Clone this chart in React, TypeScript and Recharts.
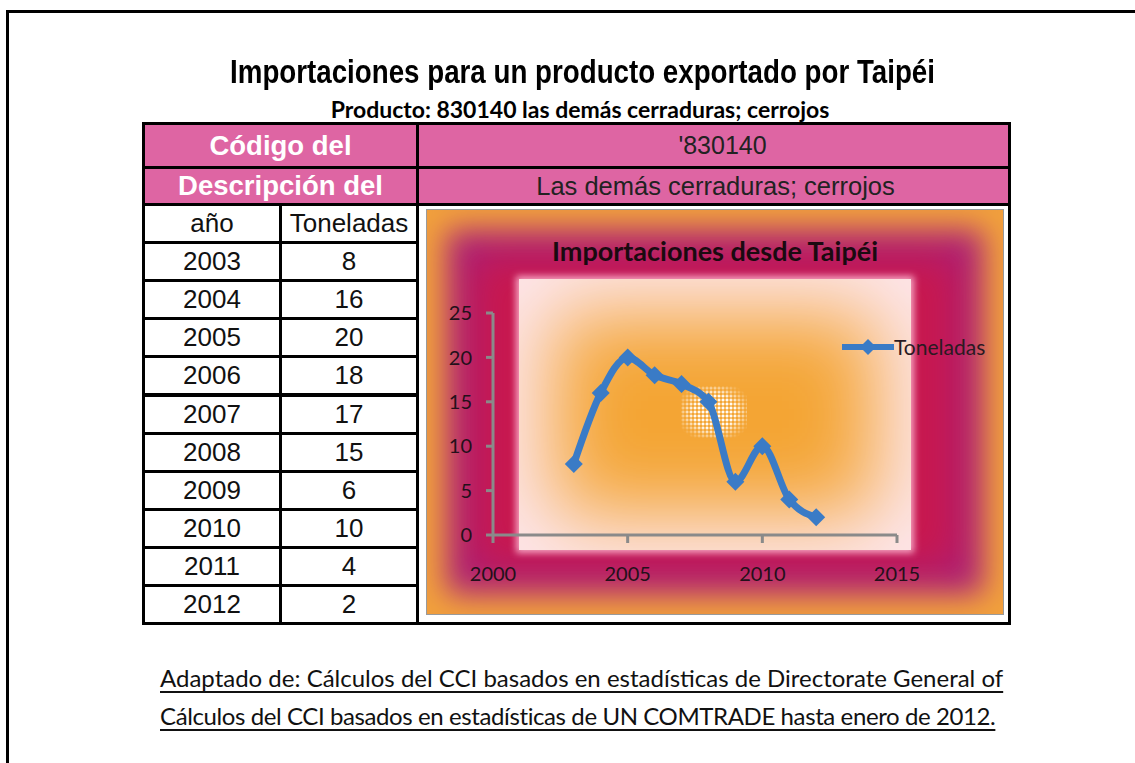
import React from 'react';
import { LineChart, Line, XAxis, YAxis, Legend } from 'recharts';

const years = [2003, 2004, 2005, 2006, 2007, 2008, 2009, 2010, 2011, 2012];
const toneladas = [8, 16, 20, 18, 17, 15, 6, 10, 4, 2];
const xTicks = [2000, 2005, 2010, 2015];
const yTicks = [0, 5, 10, 15, 20, 25];

const chartData = years.map((year, i) => ({ year, toneladas: toneladas[i] }));

const BLUE = '#3a7bc6';
const PINK = '#de65a3';
const AXIS = '#8a8a8a';
const ARIAL = '"Liberation Sans", Arial, sans-serif';
const CALIBRI = 'Lato, "Noto Sans", sans-serif';

const Diamond = (props: any) => {
  const { cx, cy } = props;
  if (cx == null || cy == null) return null;
  const r = 9;
  return (
    <polygon
      points={`${cx},${cy - r} ${cx + r},${cy} ${cx},${cy + r} ${cx - r},${cy}`}
      fill={BLUE}
    />
  );
};

const LegendContent = () => (
  <div style={{ display: 'flex', alignItems: 'center', fontFamily: CALIBRI, fontSize: 21, color: '#2a1a22' }}>
    <svg width={52} height={20}>
      <line x1={0} y1={10} x2={52} y2={10} stroke={BLUE} strokeWidth={6} />
      <polygon points="26,2 34,10 26,18 18,10" fill={BLUE} />
    </svg>
    <span>Toneladas</span>
  </div>
);

type CellProps = {
  x: number;
  y: number;
  w: number;
  h: number;
  bg?: string;
  children?: React.ReactNode;
  style?: React.CSSProperties;
};

function Cell({ x, y, w, h, bg = '#fff', children, style }: CellProps) {
  return (
    <div
      style={{
        position: 'absolute',
        left: x,
        top: y,
        width: w,
        height: h,
        boxSizing: 'border-box',
        border: '3px solid #000',
        background: bg,
        display: 'flex',
        alignItems: 'center',
        justifyContent: 'center',
        whiteSpace: 'nowrap',
        ...style,
      }}
    >
      {children}
    </div>
  );
}

const ROW_TOP = 203;
const ROW_PITCH = 38.1;
const tableText: React.CSSProperties = { fontFamily: ARIAL, fontSize: 26, color: '#111' };
const headLeft: React.CSSProperties = { color: '#fff', fontFamily: ARIAL, fontWeight: 700, fontSize: 27.5 };

export default function App() {
  return (
    <div
      style={{
        position: 'absolute',
        left: 0,
        top: 0,
        width: 1135,
        height: 763,
        background: '#fff',
        overflow: 'hidden',
      }}
    >
      {/* page frame */}
      <div
        style={{
          position: 'absolute',
          left: 6,
          top: 10,
          width: 1200,
          height: 800,
          borderLeft: '3px solid #000',
          borderTop: '3px solid #000',
        }}
      />

      <div
        style={{
          position: 'absolute',
          left: 0,
          width: 1165,
          top: 53,
          textAlign: 'center',
          fontFamily: ARIAL,
          fontWeight: 700,
          fontSize: 33,
          lineHeight: '38px',
          color: '#000',
          transform: 'scaleX(0.84)',
          transformOrigin: '582.5px 0',
        }}
      >
        Importaciones para un producto exportado por Taipéi
      </div>
      <div
        style={{
          position: 'absolute',
          left: 0,
          width: 1160,
          top: 95,
          textAlign: 'center',
          fontFamily: CALIBRI,
          fontWeight: 700,
          fontSize: 23,
          lineHeight: '28px',
          color: '#000',
        }}
      >
        Producto: 830140 las demás cerraduras; cerrojos
      </div>

      {/* header rows */}
      <Cell x={142} y={122} w={277} h={47} bg={PINK} style={headLeft}>
        Código del
      </Cell>
      <Cell x={416} y={122} w={595} h={47} bg={PINK} style={{ color: '#222', fontFamily: ARIAL, fontSize: 25, paddingLeft: 18 }}>
        '830140
      </Cell>
      <Cell x={142} y={166} w={277} h={40} bg={PINK} style={headLeft}>
        Descripción del
      </Cell>
      <Cell x={416} y={166} w={595} h={40} bg={PINK} style={{ color: '#222', fontFamily: ARIAL, fontSize: 25.5, paddingLeft: 4 }}>
        Las demás cerraduras; cerrojos
      </Cell>

      {/* data table */}
      <Cell x={142} y={ROW_TOP} w={140} h={41} style={tableText}>
        año
      </Cell>
      <Cell x={279} y={ROW_TOP} w={140} h={41} style={tableText}>
        Toneladas
      </Cell>
      {years.map((year, i) => (
        <React.Fragment key={year}>
          <Cell x={142} y={ROW_TOP + ROW_PITCH * (i + 1)} w={140} h={41} style={tableText}>
            {year}
          </Cell>
          <Cell x={279} y={ROW_TOP + ROW_PITCH * (i + 1)} w={140} h={41} style={tableText}>
            {toneladas[i]}
          </Cell>
        </React.Fragment>
      ))}

      {/* chart cell */}
      <Cell x={416} y={ROW_TOP} w={595} h={422} />

      {/* chart area background */}
      <div
        style={{
          position: 'absolute',
          left: 426,
          top: 209,
          width: 578,
          height: 406,
          boxSizing: 'border-box',
          border: '1px solid #9a9a9a',
          background: '#c8184f',
          boxShadow: 'inset 0 0 30px 20px #f2a23c, inset 0 0 40px 44px #a8217c',
        }}
      />
      {/* plot area background */}
      <div
        style={{
          position: 'absolute',
          left: 519,
          top: 279,
          width: 392,
          height: 271,
          background: '#f4a534',
          boxShadow: 'inset 0 0 80px 34px #fde7ef, 0 0 7px 3px rgba(255, 190, 215, 0.85)',
        }}
      />
      <div
        style={{
          position: 'absolute',
          left: 681,
          top: 386,
          width: 66,
          height: 52,
          backgroundImage: 'radial-gradient(circle, rgba(255,255,255,0.95) 1.2px, transparent 1.8px)',
          backgroundSize: '4px 4px',
          WebkitMaskImage: 'radial-gradient(ellipse at center, #000 45%, transparent 85%)',
          maskImage: 'radial-gradient(ellipse at center, #000 45%, transparent 85%)',
        }}
      />

      <div
        style={{
          position: 'absolute',
          left: 426,
          top: 235,
          width: 578,
          textAlign: 'center',
          fontFamily: CALIBRI,
          fontWeight: 700,
          fontSize: 27,
          lineHeight: '31px',
          color: '#1a0a10',
        }}
      >
        Importaciones desde Taipéi
      </div>

      <div style={{ position: 'absolute', left: 426, top: 209 }}>
        <LineChart width={578} height={406} data={chartData} margin={{ top: 104, right: 107, bottom: 20, left: 7 }}>
          <XAxis
            dataKey="year"
            type="number"
            domain={[2000, 2015]}
            ticks={xTicks}
            height={60}
            axisLine={{ stroke: AXIS, strokeWidth: 3 }}
            tickLine={{ stroke: AXIS, strokeWidth: 3 }}
            tickSize={8}
            tickMargin={24}
            tick={{ fill: '#24101a', fontSize: 20, fontFamily: CALIBRI }}
          />
          <YAxis
            type="number"
            domain={[0, 25]}
            ticks={yTicks}
            width={60}
            axisLine={{ stroke: AXIS, strokeWidth: 3 }}
            tickLine={{ stroke: AXIS, strokeWidth: 3 }}
            tickSize={7}
            tickMargin={14}
            tick={{ fill: '#24101a', fontSize: 20, fontFamily: CALIBRI }}
          />
          <Legend
            layout="horizontal"
            align="center"
            verticalAlign="middle"
            content={<LegendContent />}
            wrapperStyle={{ left: 416, top: 125, width: 160 }}
          />
          <Line
            dataKey="toneladas"
            name="Toneladas"
            type="monotone"
            stroke={BLUE}
            strokeWidth={7}
            dot={<Diamond />}
            activeDot={false}
            isAnimationActive={false}
          />
        </LineChart>
      </div>

      <div
        style={{
          position: 'absolute',
          left: 160,
          top: 659,
          fontFamily: CALIBRI,
          fontSize: 24,
          lineHeight: '38px',
          color: '#111',
          textDecoration: 'underline',
          textUnderlineOffset: 4,
          whiteSpace: 'nowrap',
        }}
      >
        Adaptado de: Cálculos del CCI basados en estadísticas de Directorate General of
        <br />
        <span style={{ letterSpacing: -0.4 }}>
          Cálculos del CCI basados en estadísticas de UN COMTRADE hasta enero de 2012.
        </span>
      </div>
    </div>
  );
}
